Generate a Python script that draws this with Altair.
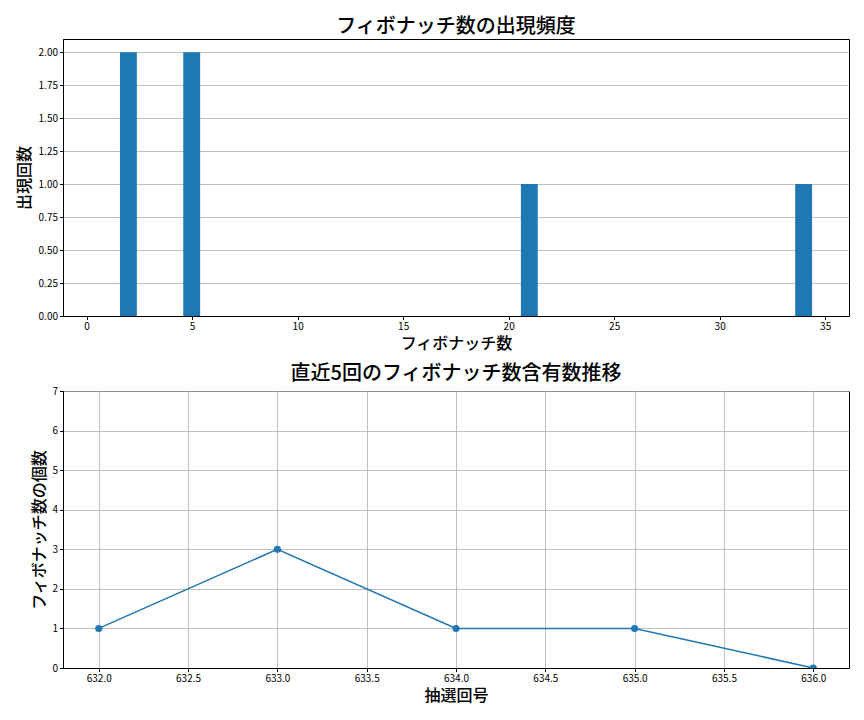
import altair as alt
import pandas as pd

# --- data ---
fib_numbers = [2, 5, 21, 34]
fib_counts = [2, 2, 1, 1]

draw_numbers = [632, 633, 634, 635, 636]
fib_per_draw = [1, 3, 1, 1, 0]

FONT = "Noto Sans CJK JP"
BLUE = "#1f77b4"

df_top = pd.DataFrame({"num": fib_numbers, "count": fib_counts})
df_bot = pd.DataFrame({"draw": draw_numbers, "n": fib_per_draw})

top = (
    alt.Chart(df_top, title="フィボナッチ数の出現頻度")
    .transform_calculate(x0="datum.num - 0.42", x1="datum.num + 0.38", zero="0")
    .mark_rect(color=BLUE)
    .encode(
        x=alt.X(
            "x0:Q",
            title="フィボナッチ数",
            scale=alt.Scale(domain=[-1.12, 36.13], nice=False, zero=False),
            axis=alt.Axis(values=[0, 5, 10, 15, 20, 25, 30, 35], format="d", grid=False,
                          titlePadding=4),
        ),
        x2="x1:Q",
        y=alt.Y(
            "count:Q",
            title="出現回数",
            scale=alt.Scale(domain=[0, 2.1], nice=False),
            axis=alt.Axis(values=[0, 0.25, 0.5, 0.75, 1.0, 1.25, 1.5, 1.75, 2.0],
                          format=".2f", grid=True, titleX=-31),
        ),
        y2="zero:Q",
    )
    .properties(width=786, height=277)
)

xscale = alt.Scale(domain=[631.8, 636.2], nice=False, zero=False)
yscale = alt.Scale(domain=[0, 7], nice=False)
xaxis = alt.Axis(values=[632, 632.5, 633, 633.5, 634, 634.5, 635, 635.5, 636],
                 format=".1f", grid=True, titlePadding=4)
yaxis = alt.Axis(values=[0, 1, 2, 3, 4, 5, 6, 7], format="d", grid=True, titleX=-16,
                 labelOverlap=False)

line = alt.Chart(df_bot).mark_line(color=BLUE, strokeWidth=1.5).encode(
    x=alt.X("draw:Q", title="抽選回号", scale=xscale, axis=xaxis),
    y=alt.Y("n:Q", title="フィボナッチ数の個数", scale=yscale, axis=yaxis),
)
pts = alt.Chart(df_bot).mark_point(filled=True, color=BLUE, size=50, opacity=1, clip=True).encode(
    x=alt.X("draw:Q", title="抽選回号", scale=xscale, axis=xaxis),
    y=alt.Y("n:Q", title="フィボナッチ数の個数", scale=yscale, axis=yaxis),
)
bottom = alt.layer(line, pts, title="直近5回のフィボナッチ数含有数推移").properties(width=786, height=277)

chart = (
    alt.vconcat(top, bottom, spacing=75, bounds="flush")
    .properties(padding={"left": 7, "top": 8, "right": 0, "bottom": 8})
    .configure_view(stroke="black", strokeWidth=1)
    .configure_axis(
        labelFont=FONT,
        titleFont=FONT,
        labelFontSize=10,
        titleFontSize=16,
        titleFontWeight=500,
        labelColor="black",
        titleColor="black",
        domainColor="black",
        tickColor="black",
        tickSize=3.5,
        labelPadding=2,
        titlePadding=3,
        gridColor="#b0b0b0",
        gridWidth=0.8,
    )
    .configure_title(font=FONT, fontSize=20, fontWeight=500, color="black",
                     anchor="middle", offset=2)
)

chart.save("out.html", embed_options={"renderer": "svg", "actions": False})
